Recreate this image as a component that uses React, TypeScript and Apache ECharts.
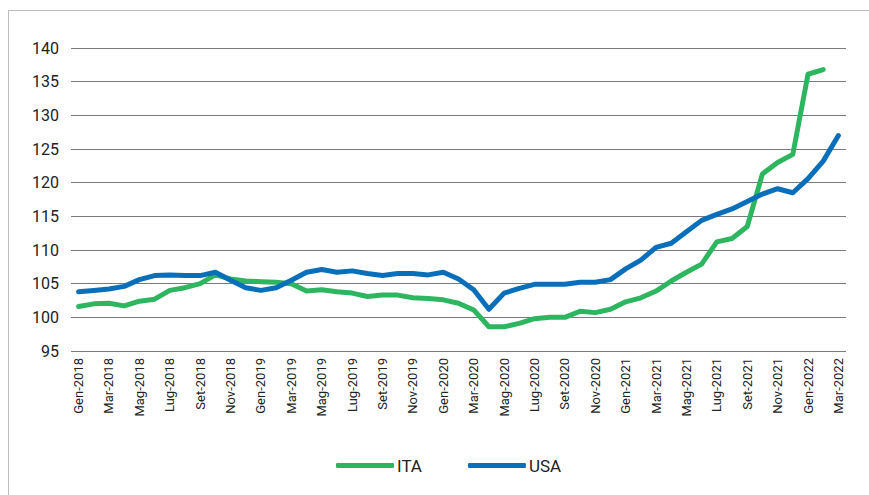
import React, { useEffect, useRef } from "react";
import * as echarts from "echarts";

const months = ["Gen", "Feb", "Mar", "Apr", "Mag", "Giu", "Lug", "Ago", "Set", "Ott", "Nov", "Dic"];
const years = [2018, 2019, 2020, 2021, 2022];
const categories: string[] = [];
for (const y of years) {
  for (const m of months) {
    categories.push(`${m}-${y}`);
  }
}
const cats = categories.slice(0, 51);

const ita: (number | null)[] = [
  101.6, 102.0, 102.1, 101.7, 102.4, 102.7, 104.0, 104.4, 105.0, 106.3,
  105.7, 105.4, 105.3, 105.2, 105.0, 103.9, 104.1, 103.8, 103.6, 103.1,
  103.3, 103.3, 102.9, 102.8, 102.6, 102.1, 101.1, 98.6, 98.6, 99.1,
  99.8, 100.0, 100.0, 100.9, 100.7, 101.2, 102.3, 102.9, 103.9, 105.4,
  106.7, 107.9, 111.2, 111.7, 113.5, 121.3, 123.0, 124.2, 136.1, 136.8,
  null,
];

const usa: number[] = [
  103.8, 104.0, 104.2, 104.6, 105.6, 106.2, 106.3, 106.2, 106.2, 106.7,
  105.5, 104.4, 104.0, 104.4, 105.5, 106.7, 107.1, 106.7, 106.9, 106.5,
  106.2, 106.5, 106.5, 106.3, 106.7, 105.7, 104.1, 101.2, 103.6, 104.3,
  104.9, 104.9, 104.9, 105.2, 105.2, 105.6, 107.2, 108.5, 110.4, 111.0,
  112.7, 114.4, 115.3, 116.1, 117.2, 118.3, 119.1, 118.5, 120.6, 123.2,
  127.0,
];

const yTicks = { min: 95, max: 140, interval: 5 };
const FONT = "Roboto, 'Liberation Sans', sans-serif";

export default function App() {
  const ref = useRef<HTMLDivElement>(null);
  useEffect(() => {
    if (!ref.current) return;
    const chart = echarts.init(ref.current, undefined, { renderer: "svg" });
    chart.setOption({
      animation: false,
      backgroundColor: "#ffffff",
      textStyle: { fontFamily: FONT },
      graphic: [
        { type: "line", shape: { x1: 8.5, y1: 10, x2: 8.5, y2: 495 }, style: { stroke: "#bdbdbd", lineWidth: 1 } },
        { type: "line", shape: { x1: 8, y1: 10.5, x2: 869, y2: 10.5 }, style: { stroke: "#bdbdbd", lineWidth: 1 } },
      ],
      grid: { left: 71, right: 23, top: 48, bottom: 144, containLabel: false },
      legend: {
        data: ["ITA", "USA"],
        top: 452,
        left: 331,
        itemWidth: 58,
        itemHeight: 5,
        itemGap: 46,
        icon: "roundRect",
        textStyle: { fontFamily: FONT, fontSize: 17, color: "#222", padding: [0, 0, 0, -2] },
      },
      xAxis: {
        type: "category",
        data: cats,
        boundaryGap: true,
        axisLine: { show: false },
        axisTick: { show: false },
        axisLabel: {
          interval: 1,
          rotate: 90,
          fontFamily: FONT,
          fontSize: 13,
          color: "#222",
          margin: 7,
        },
      },
      yAxis: {
        type: "value",
        min: yTicks.min,
        max: yTicks.max,
        interval: yTicks.interval,
        axisLine: { show: false },
        axisTick: { show: false },
        splitLine: { lineStyle: { color: "#7a7a7a", width: 1 } },
        axisLabel: { fontFamily: FONT, fontSize: 16, color: "#222", margin: 12 },
      },
      series: [
        {
          name: "ITA",
          type: "line",
          data: ita,
          showSymbol: false,
          symbol: "none",
          lineStyle: { color: "#2db560", width: 5, cap: "round", join: "round" },
          itemStyle: { color: "#2db560" },
        },
        {
          name: "USA",
          type: "line",
          data: usa,
          showSymbol: false,
          symbol: "none",
          lineStyle: { color: "#0a6fba", width: 5, cap: "round", join: "round" },
          itemStyle: { color: "#0a6fba" },
        },
      ],
    });
    return () => chart.dispose();
  }, []);
  return <div ref={ref} style={{ position: "fixed", left: 0, top: 0, width: 869, height: 495 }} />;
}
